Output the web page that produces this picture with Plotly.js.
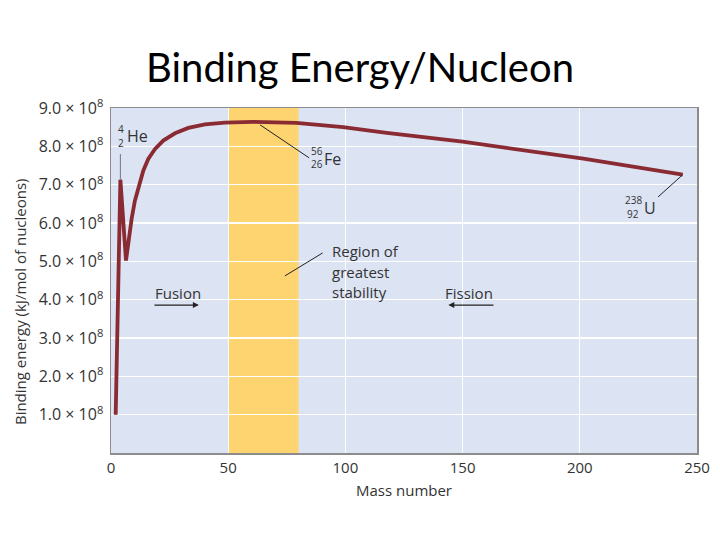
<!DOCTYPE html>
<html>
<head>
<meta charset="utf-8">
<script src="https://cdn.plot.ly/plotly-3.0.1.min.js"></script>
<style>
  html, body { margin: 0; padding: 0; background: #fff; }
  #chart { width: 720px; height: 540px; }
</style>
</head>
<body>
<div id="chart"></div>
<script>
'use strict';

// binding energy curve
const massNumber = [2, 4, 6.4, 7.4, 8.8, 10.2, 11.7, 13.8, 15.9, 18.8, 22.3, 27.3, 33, 40.1, 48.6, 60.7, 79, 99, 117.6, 150, 201.5, 243.9];
const bindingEnergy = [1.0e8, 7.13e8, 5.02e8, 5.54e8, 6.11e8, 6.58e8, 6.93e8, 7.37e8, 7.67e8, 7.93e8, 8.15e8, 8.34e8, 8.48e8, 8.57e8, 8.62e8, 8.64e8, 8.61e8, 8.50e8, 8.35e8, 8.12e8, 7.68e8, 7.26e8];

const yTickVals = [1e8, 2e8, 3e8, 4e8, 5e8, 6e8, 7e8, 8e8, 9e8];
const yTickText = ['1.0', '2.0', '3.0', '4.0', '5.0', '6.0', '7.0', '8.0', '9.0'];
const xTickVals = [0, 50, 100, 150, 200, 250];

// region of greatest stability
const stableRange = [50, 80];

const textColor = '#333333';
const font = 'Open Sans, sans-serif';

function note(x, y, text, size, extra) {
    return Object.assign({
        x: x, y: y, xref: 'x', yref: 'y', text: text, showarrow: false,
        font: {family: font, size: size, color: textColor}
    }, extra || {});
}

function leader(x0, y0, x1, y1, color) {
    return {type: 'line', xref: 'x', yref: 'y', x0: x0, y0: y0, x1: x1, y1: y1,
            layer: 'above', line: {color: color || '#222', width: 1}};
}

function arrow(fromX, toX, y) {
    return {x: toX, y: y, ax: fromX, ay: y, xref: 'x', yref: 'y', axref: 'x', ayref: 'y',
            text: '', showarrow: true, arrowhead: 2, arrowsize: 1, arrowwidth: 1.2, arrowcolor: '#222',
            font: {size: 12}};
}

const trace = {
    x: massNumber,
    y: bindingEnergy,
    type: 'scatter',
    mode: 'lines',
    line: {color: '#8a2a32', width: 3.8},
    hoverinfo: 'skip'
};

const layout = {
    width: 720,
    height: 540,
    margin: {l: 111, r: 23, t: 108, b: 87},
    paper_bgcolor: '#ffffff',
    plot_bgcolor: '#dce3f3',
    showlegend: false,
    title: {
        text: 'Binding Energy/Nucleon',
        font: {family: 'Lato, sans-serif', size: 40, color: '#000'},
        x: 0.5, xanchor: 'center', y: 0.875, yanchor: 'middle'
    },
    xaxis: {
        range: [0, 250],
        tickvals: xTickVals,
        showgrid: true, gridcolor: '#ffffff', gridwidth: 1.2,
        zeroline: false,
        showline: true, linecolor: '#8c8c8c', linewidth: 1.5, mirror: true,
        ticks: '',
        tickfont: {family: font, size: 15, color: textColor},
        title: {text: 'Mass number', font: {family: font, size: 15, color: textColor}, standoff: 10}
    },
    yaxis: {
        range: [0, 9e8],
        tickvals: yTickVals,
        ticktext: yTickText.map(t => t + ' × 10<sup>8</sup>'),
        showgrid: true, gridcolor: '#ffffff', gridwidth: 1.2,
        zeroline: false,
        showline: true, linecolor: '#8c8c8c', linewidth: 1.5, mirror: true,
        ticks: '',
        ticklabelstandoff: 3,
        tickfont: {family: font, size: 16, color: textColor}
    },
    shapes: [
        {type: 'rect', xref: 'x', yref: 'paper', x0: stableRange[0], x1: stableRange[1], y0: 0, y1: 1,
         fillcolor: '#fdd46f', line: {width: 0}, layer: 'between'},
        leader(4, 7.8e8, 4, 7.13e8, '#777'),
        leader(63.6, 8.56e8, 84.5, 7.70e8),
        leader(243.9, 7.26e8, 233.4, 6.68e8),
        leader(74.2, 4.62e8, 90.3, 5.22e8)
    ],
    annotations: [
        {x: -0.155, y: 0.438, xref: 'paper', yref: 'paper', text: 'Binding energy (kJ/mol of nucleons)',
         textangle: -90, showarrow: false, xanchor: 'center', yanchor: 'middle',
         font: {family: font, size: 15, color: textColor}},
        note(4.3, 8.45e8, '4', 10),
        note(4.3, 8.10e8, '2', 10),
        note(11.2, 8.27e8, 'He', 16),
        note(88.0, 7.89e8, '56', 10),
        note(88.0, 7.54e8, '26', 10),
        note(94.6, 7.67e8, 'Fe', 16),
        note(222.7, 6.61e8, '238', 10),
        note(222.9, 6.24e8, '92', 10),
        note(229.8, 6.39e8, 'U', 16),
        note(93.4, 5.27e8, 'Region of', 15, {xanchor: 'left'}),
        note(93.4, 4.72e8, 'greatest', 15, {xanchor: 'left'}),
        note(93.4, 4.20e8, 'stability', 15, {xanchor: 'left'}),
        note(28.6, 4.17e8, 'Fusion', 15),
        note(152.7, 4.17e8, 'Fission', 15),
        arrow(17.9, 37.5, 3.86e8),
        arrow(163.8, 143.9, 3.86e8)
    ]
};

Plotly.newPlot('chart', [trace], layout, {staticPlot: true});
</script>
</body>
</html>
